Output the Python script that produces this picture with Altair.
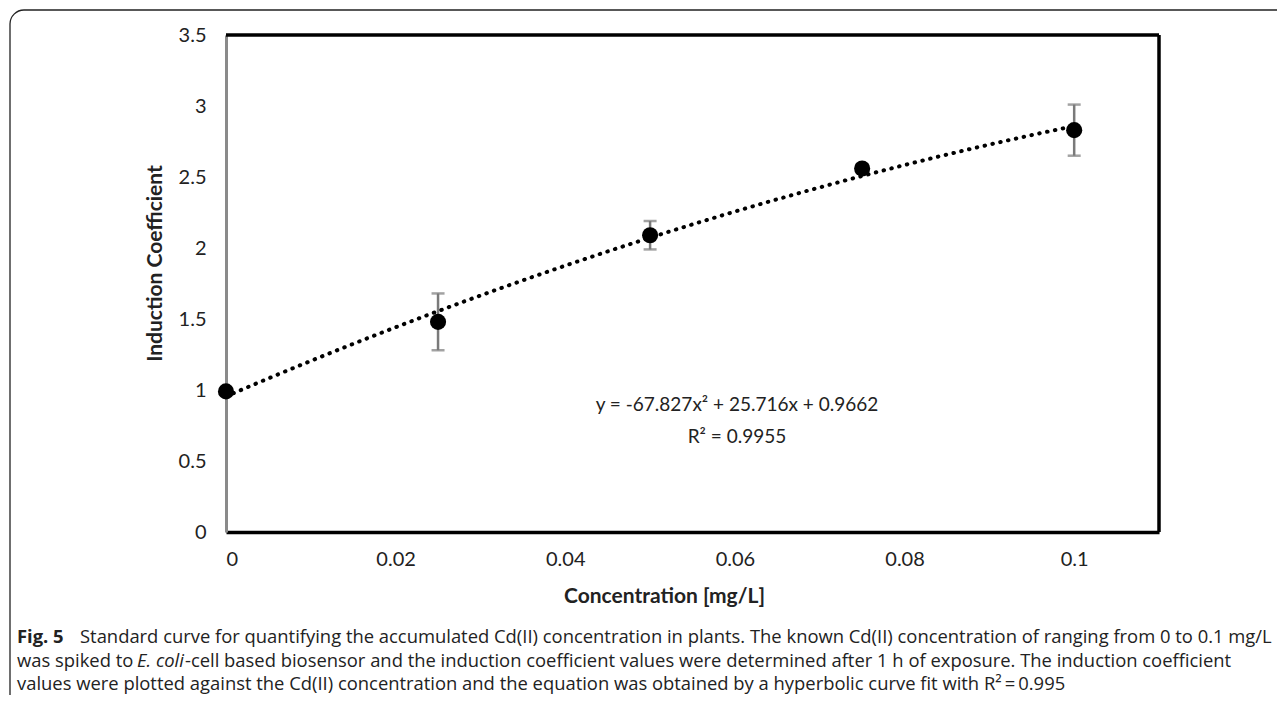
import altair as alt
import pandas as pd

# ---- data ----
conc = [0.0, 0.025, 0.05, 0.075, 0.1]
induction = [0.99, 1.48, 2.09, 2.56, 2.83]
err = [0.0, 0.20, 0.10, 0.03, 0.18]
x_ticks = [0, 0.02, 0.04, 0.06, 0.08, 0.1]
y_ticks = [0, 0.5, 1, 1.5, 2, 2.5, 3, 3.5]

x_title = "Concentration [mg/L]"
y_title = "Induction Coefficient"
eq_text = "y = -67.827x\u00b2 + 25.716x + 0.9662"
r2_text = "R\u00b2 = 0.9955"
cap_bold = "Fig. 5"
cap_l1 = ("Standard curve for quantifying the accumulated Cd(II) concentration in plants. "
          "The known Cd(II) concentration of ranging from 0 to 0.1 mg/L")
cap_l2a = "was spiked to "
cap_l2b = "E. coli"
cap_l2c = ("-cell based biosensor and the induction coefficient values were determined after 1 h "
           "of exposure. The induction coefficient")
cap_l3 = ("values were plotted against the Cd(II) concentration and the equation was obtained by a "
          "hyperbolic curve fit with R\u00b2\u2009=\u20090.995")

df = pd.DataFrame({
    "x": conc,
    "y": induction,
    "lo": [v - e for v, e in zip(induction, err)],
    "hi": [v + e for v, e in zip(induction, err)],
})
one = pd.DataFrame({"k": [0]})

W, H = 933, 497
FONT = "Lato"
CAP_FONT = "Open Sans"
CAP_SIZE = 18.4

xs = alt.Scale(domain=[0, 0.11], nice=False, zero=True)
ys = alt.Scale(domain=[0, 3.5], nice=False)

base = alt.Chart(df)

xenc = alt.X("x:Q", scale=xs, axis=alt.Axis(
    values=x_ticks, format="~g", title=x_title, grid=False, ticks=False,
    domain=True, domainColor="black", domainWidth=3.5,
    labelFont=FONT, labelFontSize=20, labelColor="#222", labelPadding=17,
    titleFont=FONT, titleFontSize=21, titleFontWeight="bold", titleColor="#222",
    titleX=438, titleY=64, titleBaseline="middle", titleAnchor="start", titleAlign="center"))
yenc = alt.Y("y:Q", scale=ys, axis=alt.Axis(
    values=y_ticks, format="~g", title=y_title, grid=False, ticks=False,
    domain=True, domainColor="#8a8a8a", domainWidth=3,
    labelFont=FONT, labelFontSize=20, labelColor="#222", labelPadding=20,
    titleFont=FONT, titleFontSize=21, titleFontWeight="bold", titleColor="#222",
    titleX=-71, titleY=228, titleAngle=270, titleBaseline="middle", titleAlign="center"))

err_rule = base.mark_rule(color="#7a7a7a", strokeWidth=2.5).encode(
    x=xenc, y=yenc, y2="hi:Q"
).transform_calculate(y="datum.lo")
cap_hi = base.mark_tick(color="#7a7a7a", thickness=2.5, size=13, orient="horizontal").encode(
    x="x:Q", y=alt.Y("hi:Q", scale=ys))
cap_lo = base.mark_tick(color="#7a7a7a", thickness=2.5, size=13, orient="horizontal").encode(
    x="x:Q", y=alt.Y("lo:Q", scale=ys))

fit = base.transform_regression("x", "y", method="poly", order=2, extent=[0, 0.1]).mark_line(
    color="black", strokeWidth=4, strokeDash=[0.5, 7.5], strokeCap="round").encode(
    x="x:Q", y="y:Q")

pts = base.mark_circle(color="black", opacity=1, size=260).encode(x="x:Q", y="y:Q")

frame_top = alt.Chart(one).mark_rule(color="black", strokeWidth=3.5).encode(
    x=alt.value(0), x2=alt.value(W), y=alt.value(0))
frame_right = alt.Chart(one).mark_rule(color="black", strokeWidth=3.5).encode(
    x=alt.value(W), y=alt.value(0), y2=alt.value(H))

border = alt.Chart(one).mark_rect(fillOpacity=0, stroke="#222", strokeWidth=1.3, cornerRadius=14).encode(
    x=alt.value(-216), x2=alt.value(1200), y=alt.value(-25), y2=alt.value(700))


def txt(s, x, y, size, font=FONT, weight="normal", style="normal", align="left", color="#222"):
    return alt.Chart(one).mark_text(
        text=s, font=font, fontSize=size, fontWeight=weight, fontStyle=style,
        align=align, baseline="middle", color=color).encode(x=alt.value(x), y=alt.value(y))


eq = txt(eq_text, 511, 370, 19, align="center")
r2 = txt(r2_text, 511, 402, 19, align="center")

c0 = txt(cap_bold, -209, 602, CAP_SIZE, font=CAP_FONT, weight="bold")
c1 = txt(cap_l1, -146, 602, CAP_SIZE, font=CAP_FONT)
c2a = txt(cap_l2a, -209, 626, CAP_SIZE, font=CAP_FONT)
c2b = txt(cap_l2b, -89, 626, CAP_SIZE, font=CAP_FONT, style="italic")
c2c = txt(cap_l2c, -41, 626, CAP_SIZE, font=CAP_FONT)
c3 = txt(cap_l3, -209, 649, CAP_SIZE, font=CAP_FONT)

chart = alt.layer(
    err_rule, cap_hi, cap_lo, fit, pts, frame_top, frame_right,
    eq, r2, c0, c1, c2a, c2b, c2c, c3, border
).properties(
    width=W, height=H,
    autosize=alt.AutoSizeParams(type="none"),
    padding={"left": 218, "top": 27, "right": 118, "bottom": 163},
).configure_view(stroke=None).configure(background="white")

chart.save("out.html", embed_options={"renderer": "svg", "actions": False})
